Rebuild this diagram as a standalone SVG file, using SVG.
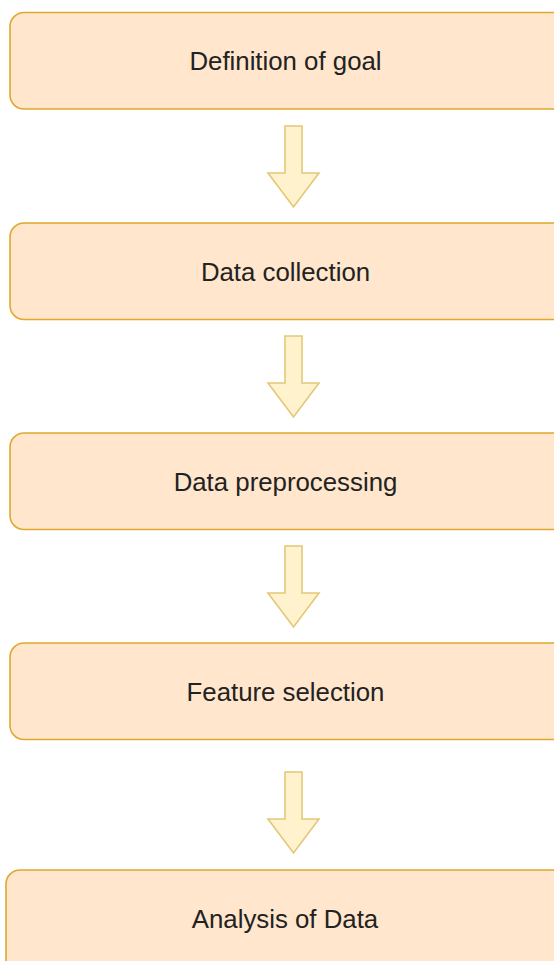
<svg xmlns="http://www.w3.org/2000/svg" width="554" height="961" viewBox="0 0 554 961">
  <style>
    .box { fill: #ffe6cc; stroke: #e0a82e; stroke-width: 1.6; }
    .lbl { font-family: "Liberation Sans", Arial, sans-serif; font-size: 25.8px; fill: #222222; text-anchor: middle; }
    .arrow { fill: #fff2cc; stroke: #e3c878; stroke-width: 1.6; stroke-linejoin: miter; }
  </style>
  <defs>
    <path id="down" d="M -8.5 0 H 8.5 V 47 H 25.5 L 0 81 L -25.5 47 H -8.5 Z"/>
  </defs>

  <g id="connectors">
    <use href="#down" class="arrow" transform="translate(293.5,126)"/>
    <use href="#down" class="arrow" transform="translate(293.5,336)"/>
    <use href="#down" class="arrow" transform="translate(293.5,546)"/>
    <use href="#down" class="arrow" transform="translate(293.5,772)"/>
  </g>

  <g id="node-goal">
    <rect class="box" x="10" y="12.5" width="560" height="96.5" rx="14"/>
    <text class="lbl" x="285.5" y="70">Definition of goal</text>
  </g>
  <g id="node-collection">
    <rect class="box" x="10" y="223" width="560" height="96.5" rx="14"/>
    <text class="lbl" x="285.5" y="280.5">Data collection</text>
  </g>
  <g id="node-preprocessing">
    <rect class="box" x="10" y="433" width="560" height="96.5" rx="14"/>
    <text class="lbl" x="285.5" y="490.5">Data preprocessing</text>
  </g>
  <g id="node-features">
    <rect class="box" x="10" y="643" width="560" height="96.5" rx="14"/>
    <text class="lbl" x="285.5" y="700.5">Feature selection</text>
  </g>
  <g id="node-analysis">
    <rect class="box" x="6" y="870" width="560" height="120" rx="14"/>
    <text class="lbl" x="285" y="927.5">Analysis of Data</text>
  </g>
</svg>
